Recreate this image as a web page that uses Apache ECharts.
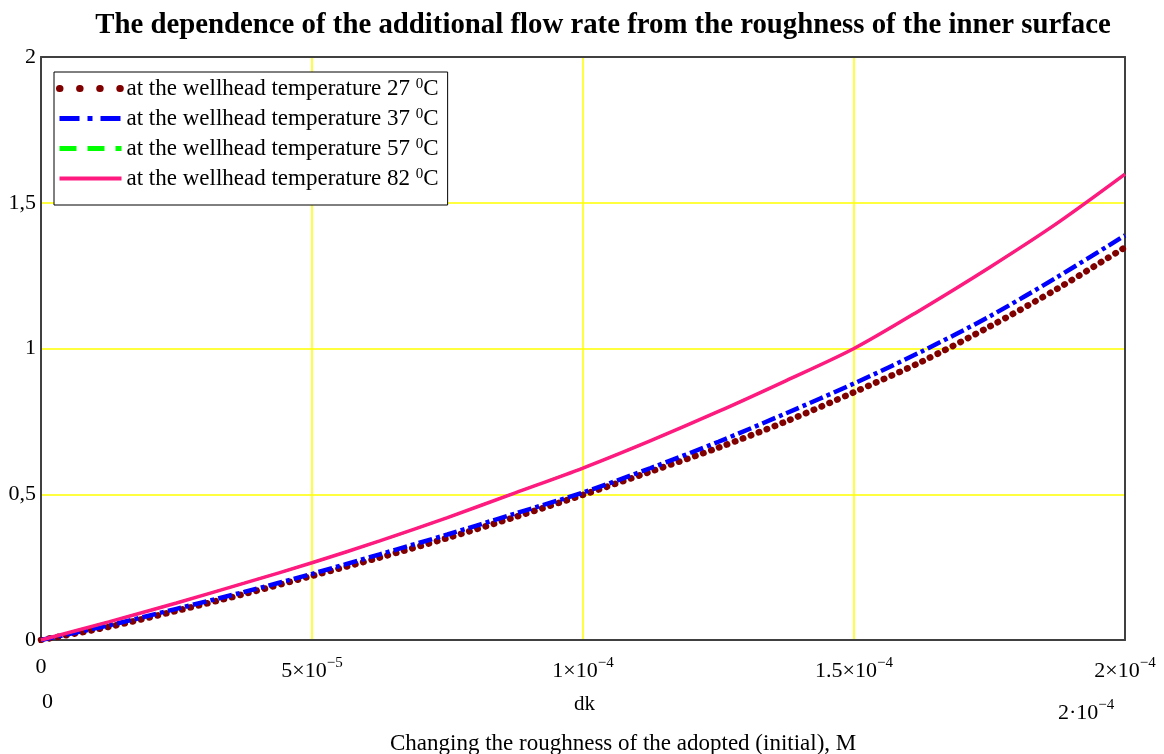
<!DOCTYPE html>
<html>
<head>
<meta charset="utf-8">
<script src="https://cdn.jsdelivr.net/npm/echarts@6/dist/echarts.min.js"></script>
<style>
html,body{margin:0;padding:0;background:#fff;}
#chart{width:1164px;height:754px;}
</style>
</head>
<body>
<div id="chart"></div>
<script>
// roughness change dk, m
const dk = [0, 1.25e-5, 2.5e-5, 3.75e-5, 5e-5, 6.25e-5, 7.5e-5, 8.75e-5, 1e-4,
            1.125e-4, 1.25e-4, 1.375e-4, 1.5e-4, 1.625e-4, 1.75e-4, 1.875e-4, 2e-4];
const t27 = [0, 0.045, 0.100, 0.158, 0.220, 0.283, 0.350, 0.422, 0.498,
             0.578, 0.660, 0.750, 0.850, 0.955, 1.075, 1.205, 1.347];
const t37 = [0, 0.050, 0.107, 0.165, 0.227, 0.294, 0.362, 0.434, 0.506,
             0.590, 0.680, 0.778, 0.880, 0.990, 1.110, 1.245, 1.388];
const t57 = [0, 0.062, 0.127, 0.195, 0.265, 0.340, 0.420, 0.505, 0.590,
             0.684, 0.784, 0.890, 1.000, 1.135, 1.278, 1.430, 1.598];
const t82 = [0, 0.062, 0.127, 0.195, 0.265, 0.340, 0.420, 0.505, 0.590,
             0.684, 0.784, 0.890, 1.000, 1.135, 1.278, 1.430, 1.598];
const seriesNames = ['at the wellhead temperature 27 {s|0}C',
                     'at the wellhead temperature 37 {s|0}C',
                     'at the wellhead temperature 57 {s|0}C',
                     'at the wellhead temperature 82 {s|0}C'];
const xTickLabels = ['0', '{m|5×10}{e|−5}', '{m|1×10}{e|−4}', '{m|1.5×10}{e|−4}', '{m|2×10}{e|−4}'];
const yTickLabels = ['0', '0,5', '1', '1,5', '2'];
const titleText = 'The dependence of the additional flow rate from the roughness of the inner surface';
const xName = 'Changing the roughness of the adopted (initial), M';

const FONT = '"Liberation Serif", "Times New Roman", serif';
const pairs = arr => dk.map((x, i) => [x, arr[i]]);
const supRich = {
  m: {fontFamily: FONT, fontSize: 22, lineHeight: 26, verticalAlign: 'bottom'},
  e: {fontFamily: FONT, fontSize: 15, lineHeight: 26, verticalAlign: 'top'}
};
const frameLine = {show: true, onZero: false, lineStyle: {color: '#404040', width: 2}};
const gridSplit = {show: true, showMinLine: false, showMaxLine: false,
                   lineStyle: {color: '#ffff00', width: 1.5}};

const chart = echarts.init(document.getElementById('chart'));
chart.setOption({
  animation: false,
  backgroundColor: '#fff',
  title: {
    text: titleText, left: 598, top: 6, textAlign: 'center',
    textStyle: {fontFamily: FONT, fontSize: 28.8, fontWeight: 'bold', color: '#000'}
  },
  grid: {left: 41, right: 39, top: 57, bottom: 114},
  legend: {
    orient: 'vertical', left: 54, top: 72, selectedMode: false, z: 10,
    backgroundColor: '#fff', borderColor: '#000', borderWidth: 1,
    padding: [5, 9, 15, 2], itemGap: 7, itemWidth: 62, itemHeight: 23,
    itemStyle: {opacity: 0},
    textStyle: {fontFamily: FONT, fontSize: 23, color: '#000', lineHeight: 23,
      rich: {s: {fontFamily: FONT, fontSize: 15, verticalAlign: 'top', lineHeight: 13}}},
    data: [
      {name: seriesNames[0], itemStyle: {opacity: 0}, lineStyle: {width: 7, type: [0.5, 19.6], cap: 'round', color: '#800000'}},
      {name: seriesNames[1], itemStyle: {opacity: 0}, lineStyle: {width: 5, type: [20, 8, 5, 8], color: '#0000ff'}},
      {name: seriesNames[2], itemStyle: {opacity: 0}, lineStyle: {width: 5, type: [17, 11], color: '#00ff00'}},
      {name: seriesNames[3], itemStyle: {opacity: 0}, lineStyle: {width: 4, type: 'solid', color: '#ff1a80'}}
    ]
  },
  xAxis: [{
    type: 'value', min: 0, max: 2e-4, interval: 5e-5, position: 'bottom',
    axisLine: frameLine, axisTick: {show: false},
    splitLine: gridSplit,
    axisLabel: {
      margin: 16, color: '#000', fontFamily: FONT, fontSize: 22,
      formatter: v => xTickLabels[Math.round(v / 5e-5)],
      rich: supRich
    }
  }, {
    type: 'value', min: 0, max: 2e-4, position: 'top',
    axisLine: frameLine, axisTick: {show: false}, axisLabel: {show: false}, splitLine: {show: false}
  }],
  yAxis: [{
    type: 'value', min: 0, max: 2, interval: 0.5, position: 'left',
    axisLine: frameLine, axisTick: {show: false},
    splitLine: gridSplit,
    axisLabel: {margin: 5, color: '#000', fontFamily: FONT, fontSize: 22,
      formatter: v => yTickLabels[Math.round(v / 0.5)]}
  }, {
    type: 'value', min: 0, max: 2, position: 'right',
    axisLine: frameLine, axisTick: {show: false}, axisLabel: {show: false}, splitLine: {show: false}
  }],
  graphic: [
    {type: 'text', left: 42, top: 691, style: {text: '0', fontFamily: FONT, fontSize: 22, fill: '#000'}},
    {type: 'text', left: 574, top: 694, style: {text: 'dk', fontFamily: FONT, fontSize: 21, fill: '#000'}},
    {type: 'text', left: 1058, top: 698, style: {text: '{m|2·10}{e|−4}', fontFamily: FONT, fontSize: 22, fill: '#000',
      rich: supRich}},
    {type: 'text', left: 390, top: 732, style: {text: xName, fontFamily: FONT, fontSize: 23, fill: '#000'}}
  ],
  series: [
    {name: seriesNames[0], type: 'line', data: pairs(t27), symbol: 'none', smooth: 0.3, z: 3,
     lineStyle: {color: '#800000', width: 6.5, type: [0.5, 8], cap: 'round'}},
    {name: seriesNames[1], type: 'line', data: pairs(t37), symbol: 'none', smooth: 0.3, z: 4,
     lineStyle: {color: '#0000ff', width: 4.5, type: [14, 4, 4, 4]}},
    {name: seriesNames[2], type: 'line', data: pairs(t57), symbol: 'none', smooth: 0.3, z: 5,
     lineStyle: {color: '#00ff00', width: 2.5, type: [17, 11]}},
    {name: seriesNames[3], type: 'line', data: pairs(t82), symbol: 'none', smooth: 0.3, z: 6,
     lineStyle: {color: '#ff1a80', width: 3.5, type: 'solid'}}
  ]
});
</script>
</body>
</html>
